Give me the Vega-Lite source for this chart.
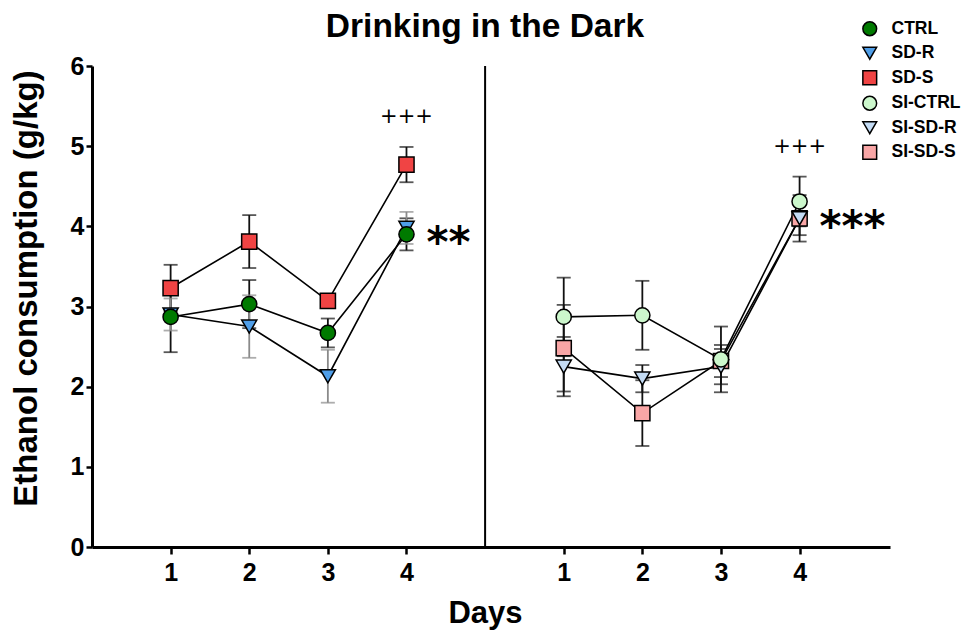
{
  "$schema": "https://vega.github.io/schema/vega-lite/v6.json",
  "width": 798,
  "height": 481,
  "autosize": "none",
  "padding": {"left": 92, "top": 66, "right": 80, "bottom": 92},
  "background": "white",
  "config": {"view": {"stroke": null}, "font": "Liberation Sans"},
  "title": {"text": "Drinking in the Dark", "font": "Liberation Sans", "fontSize": 33.5, "fontWeight": "bold", "color": "black", "anchor": "middle", "dx": -6, "baseline": "alphabetic", "offset": -50},
  "datasets": {
    "series": [
      {"group": "SD-R", "day": 1, "slot": 1, "mean": 2.90, "sem": 0.20},
      {"group": "SD-R", "day": 2, "slot": 2, "mean": 2.75, "sem": 0.39},
      {"group": "SD-R", "day": 3, "slot": 3, "mean": 2.13, "sem": 0.33},
      {"group": "SD-R", "day": 4, "slot": 4, "mean": 3.98, "sem": 0.20},
      {"group": "CTRL", "day": 1, "slot": 1, "mean": 2.87, "sem": 0.44},
      {"group": "CTRL", "day": 2, "slot": 2, "mean": 3.03, "sem": 0.30},
      {"group": "CTRL", "day": 3, "slot": 3, "mean": 2.67, "sem": 0.18},
      {"group": "CTRL", "day": 4, "slot": 4, "mean": 3.90, "sem": 0.20},
      {"group": "SD-S", "day": 1, "slot": 1, "mean": 3.23, "sem": 0.29},
      {"group": "SD-S", "day": 2, "slot": 2, "mean": 3.81, "sem": 0.33},
      {"group": "SD-S", "day": 3, "slot": 3, "mean": 3.07, "sem": 0.05},
      {"group": "SD-S", "day": 4, "slot": 4, "mean": 4.77, "sem": 0.22},
      {"group": "SI-SD-S", "day": 1, "slot": 6, "mean": 2.48, "sem": 0.54},
      {"group": "SI-SD-S", "day": 2, "slot": 7, "mean": 1.67, "sem": 0.41},
      {"group": "SI-SD-S", "day": 3, "slot": 8, "mean": 2.32, "sem": 0.20},
      {"group": "SI-SD-S", "day": 4, "slot": 9, "mean": 4.10, "sem": 0.21},
      {"group": "SI-SD-R", "day": 1, "slot": 6, "mean": 2.25, "sem": 0.37},
      {"group": "SI-SD-R", "day": 2, "slot": 7, "mean": 2.10, "sem": 0.17},
      {"group": "SI-SD-R", "day": 3, "slot": 8, "mean": 2.25, "sem": 0.22},
      {"group": "SI-SD-R", "day": 4, "slot": 9, "mean": 4.10, "sem": 0.29},
      {"group": "SI-CTRL", "day": 1, "slot": 6, "mean": 2.87, "sem": 0.49},
      {"group": "SI-CTRL", "day": 2, "slot": 7, "mean": 2.89, "sem": 0.43},
      {"group": "SI-CTRL", "day": 3, "slot": 8, "mean": 2.34, "sem": 0.41},
      {"group": "SI-CTRL", "day": 4, "slot": 9, "mean": 4.31, "sem": 0.31}
    ],
    "notes": [
      {"slot": 4, "mean": 4.99, "label": "+++", "kind": "plus"},
      {"slot": 9, "mean": 4.62, "label": "+++", "kind": "plus"},
      {"slot": 4, "mean": 3.90, "label": "**", "kind": "star"},
      {"slot": 9, "mean": 4.10, "label": "***", "kind": "star"}
    ],
    "sep": [{"slot": 5}]
  },
  "encoding": {
    "x": {
      "field": "slot", "type": "quantitative", "title": "Days",
      "scale": {"domain": [0, 10.15], "nice": false, "zero": false},
      "axis": {
        "title": "Days", "values": [1, 2, 3, 4, 6, 7, 8, 9],
        "labelExpr": "datum.value > 5 ? datum.value - 5 : datum.value",
        "grid": false, "domainColor": "black", "domainWidth": 3,
        "tickColor": "black", "tickWidth": 2.5, "tickSize": 7,
        "labelFont": "Liberation Sans", "labelFontSize": 25, "labelFontWeight": "bold", "labelColor": "black", "labelPadding": 6,
        "titleFont": "Liberation Sans", "titleFontSize": 31, "titleFontWeight": "bold", "titleColor": "black", "titlePadding": 13, "titleX": 393
      }
    }
  },
  "layer": [
    {
      "data": {"name": "sep"},
      "mark": {"type": "rule", "color": "black", "strokeWidth": 2},
      "encoding": {}
    },
    {
      "data": {"name": "series"},
      "transform": [{"filter": "datum.group !== 'SD-R'"}],
      "mark": {"type": "errorbar", "ticks": {"size": 14}, "thickness": 1.8, "color": "#111111"},
      "encoding": {
        "y": {
          "field": "mean", "type": "quantitative", "title": "Ethanol consumption (g/kg)",
          "scale": {"domain": [0, 6], "nice": false},
          "axis": {
            "title": "Ethanol consumption (g/kg)", "values": [0, 1, 2, 3, 4, 5, 6], "format": "d",
            "grid": false, "domainColor": "black", "domainWidth": 3,
            "tickColor": "black", "tickWidth": 2.5, "tickSize": 6,
            "labelFont": "Liberation Sans", "labelFontSize": 25, "labelFontWeight": "bold", "labelColor": "black", "labelPadding": 2,
            "titleFont": "Liberation Sans", "titleFontSize": 33, "titleFontWeight": "bold", "titleColor": "black", "titlePadding": 27, "titleY": 222
          }
        },
        "yError": {"field": "sem"},
        "detail": {"field": "group"}
      }
    },
    {
      "data": {"name": "series"},
      "transform": [{"filter": "datum.group === 'SD-R'"}],
      "mark": {"type": "errorbar", "ticks": {"size": 14}, "thickness": 1.8, "color": "#8a8a8a"},
      "encoding": {
        "y": {"field": "mean", "type": "quantitative", "title": "Ethanol consumption (g/kg)"},
        "yError": {"field": "sem"},
        "detail": {"field": "group"}
      }
    },
    {
      "data": {"name": "series"},
      "mark": {"type": "line", "color": "black", "strokeWidth": 1.6},
      "encoding": {
        "y": {"field": "mean", "type": "quantitative", "title": "Ethanol consumption (g/kg)"},
        "detail": {"field": "group"}
      }
    },
    {
      "data": {"name": "series"},
      "mark": {"type": "point", "filled": true, "stroke": "black", "strokeWidth": 1.5, "opacity": 1, "size": 230},
      "encoding": {
        "y": {"field": "mean", "type": "quantitative", "title": "Ethanol consumption (g/kg)"},
        "color": {
          "field": "group", "type": "nominal",
          "scale": {"domain": ["CTRL", "SD-R", "SD-S", "SI-CTRL", "SI-SD-R", "SI-SD-S"], "range": ["#007a00", "#4f9ee8", "#f04444", "#ccf7cc", "#c4dcf5", "#f9a6a6"]},
          "legend": {
            "title": null, "orient": "none", "legendX": 769, "legendY": -46, "padding": 0,
            "symbolSize": 190, "symbolStrokeColor": "black", "symbolStrokeWidth": 1.5, "symbolOpacity": 1,
            "labelFont": "Liberation Sans", "labelFontSize": 17.5, "labelFontWeight": "bold", "labelColor": "black",
            "labelOffset": 13, "rowPadding": 4.5
          }
        },
        "shape": {
          "field": "group", "type": "nominal",
          "scale": {"domain": ["CTRL", "SD-R", "SD-S", "SI-CTRL", "SI-SD-R", "SI-SD-S"], "range": ["circle", "triangle-down", "square", "circle", "triangle-down", "square"]}
        }
      }
    },
    {
      "data": {"name": "notes"},
      "transform": [{"filter": "datum.kind === 'plus'"}],
      "mark": {"type": "text", "font": "DejaVu Sans", "fontSize": 21, "align": "center", "baseline": "alphabetic", "dy": -24, "color": "black"},
      "encoding": {
        "y": {"field": "mean", "type": "quantitative", "title": "Ethanol consumption (g/kg)"},
        "text": {"field": "label"}
      }
    },
    {
      "data": {"name": "notes"},
      "transform": [{"filter": "datum.kind === 'star'"}],
      "mark": {"type": "text", "font": "DejaVu Sans", "fontSize": 42, "fontWeight": "bold", "align": "left", "baseline": "alphabetic", "dx": 20, "dy": 23, "color": "black"},
      "encoding": {
        "y": {"field": "mean", "type": "quantitative", "title": "Ethanol consumption (g/kg)"},
        "text": {"field": "label"}
      }
    }
  ]
}
